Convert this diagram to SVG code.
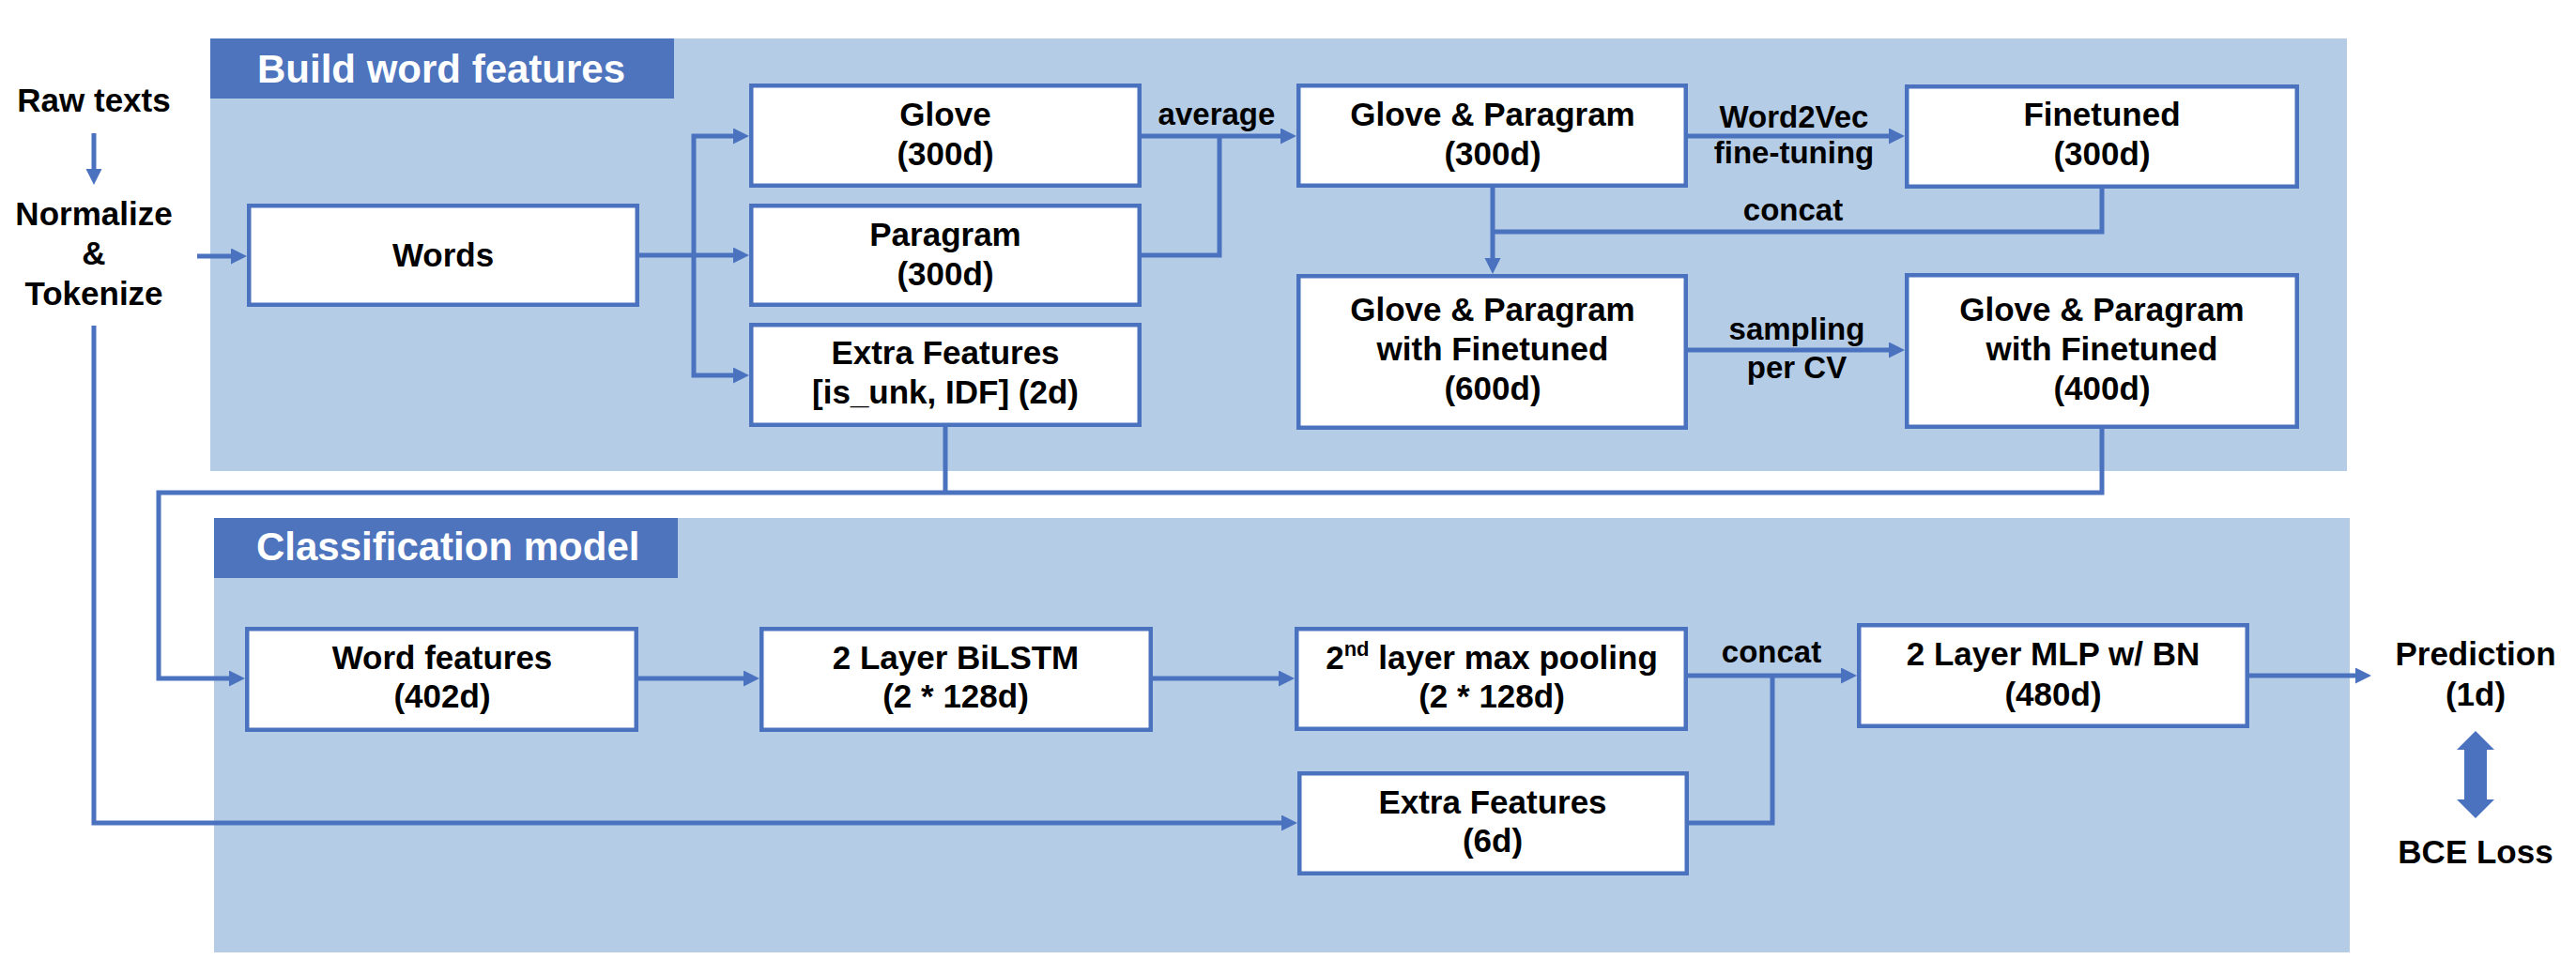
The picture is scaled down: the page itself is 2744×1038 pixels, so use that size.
<svg xmlns="http://www.w3.org/2000/svg" width="2744" height="1038" viewBox="0 0 2744 1038">
<style>
.panel{fill:#B4CCE5;}
.hdr{fill:#4E74BE;}
.hdrt{font-family:"Liberation Sans",Arial,sans-serif;font-weight:bold;font-size:42px;fill:#FFFFFF;}
.box{fill:#FFFFFF;stroke:#4A72BF;stroke-width:4.5;}
.t{font-family:"Liberation Sans",Arial,sans-serif;font-weight:bold;font-size:35px;fill:#000000;text-anchor:middle;}
.lbl{font-family:"Liberation Sans",Arial,sans-serif;font-weight:bold;font-size:33px;fill:#000000;text-anchor:middle;}
.c{fill:none;stroke:#4A72BF;stroke-width:5;stroke-linejoin:miter;}
.ca{fill:none;stroke:#4A72BF;stroke-width:5;stroke-linejoin:miter;marker-end:url(#ah);}
</style>
<defs>
<marker id="ah" markerUnits="userSpaceOnUse" markerWidth="18" markerHeight="18" refX="1" refY="8.5" orient="auto">
<path d="M0,0 L17,8.5 L0,17 z" fill="#4A72BF"/>
</marker>
</defs>
<rect width="2744" height="1038" fill="#FFFFFF"/>

<g id="panel-build">
<rect class="panel" x="224" y="41" width="2276" height="461"/>
<rect class="hdr" x="224" y="41" width="494" height="64"/>
<text class="hdrt" x="274" y="88">Build word features</text>
</g>
<g id="panel-classification">
<rect class="panel" x="228" y="552" width="2275" height="463"/>
<rect class="hdr" x="228" y="552" width="494" height="64"/>
<text class="hdrt" x="273" y="597">Classification model</text>
</g>

<g id="connectors">
<path class="ca" d="M100,142 V181"/>
<path class="ca" d="M210,273 H247"/>
<path class="ca" d="M681,272 H782"/>
<path class="ca" d="M739,272 V145 H782"/>
<path class="ca" d="M739,272 V400 H782"/>
<path class="ca" d="M1216,145 H1365"/>
<path class="c" d="M1216,272 H1299 V145"/>
<path class="ca" d="M1798,145 H2013"/>
<path class="ca" d="M1590,200 V276"/>
<path class="c" d="M2239,201 V247 H1590"/>
<path class="ca" d="M1798,373 H2013"/>
<path class="ca" d="M2239,457 V525 H169 V723 H245"/>
<path class="c" d="M1007,455 V525"/>
<path class="ca" d="M680,723 H793"/>
<path class="ca" d="M1228,723 H1363"/>
<path class="ca" d="M1798,720 H1962"/>
<path class="c" d="M1799,877 H1888 V720"/>
<path class="ca" d="M100,347 V877 H1366"/>
<path class="ca" d="M2396,720 H2510"/>
<polygon points="2637,779 2657,799 2649,799 2649,852 2657,852 2637,872 2617,852 2625,852 2625,799 2617,799" fill="#4A72BF"/>
<text class="lbl" x="1296" y="133">average</text>
<text class="lbl" x="1911" y="136">Word2Vec</text>
<text class="lbl" x="1911" y="174">fine-tuning</text>
<text class="lbl" x="1910" y="235">concat</text>
<text class="lbl" x="1914" y="362">sampling</text>
<text class="lbl" x="1914" y="403">per CV</text>
<text class="lbl" x="1887" y="706">concat</text>
</g>

<g id="raw-texts">
<text class="t" x="100" y="119">Raw texts</text>
</g>
<g id="normalize">
<text class="t" x="100" y="240">Normalize</text>
<text class="t" x="100" y="282">&amp;</text>
<text class="t" x="100" y="325">Tokenize</text>
</g>
<g id="words">
<rect class="box" x="265.25" y="219.25" width="413.5" height="105.5"/>
<text class="t" x="472" y="284">Words</text>
</g>
<g id="glove">
<rect class="box" x="800.25" y="91.25" width="413.5" height="106.5"/>
<text class="t" x="1007" y="134">Glove</text>
<text class="t" x="1007" y="176">(300d)</text>
</g>
<g id="paragram">
<rect class="box" x="800.25" y="219.25" width="413.5" height="105.5"/>
<text class="t" x="1007" y="262">Paragram</text>
<text class="t" x="1007" y="304">(300d)</text>
</g>
<g id="extra-features-2d">
<rect class="box" x="800.25" y="346.25" width="413.5" height="106.5"/>
<text class="t" x="1007" y="388">Extra Features</text>
<text class="t" x="1007" y="430">[is_unk, IDF] (2d)</text>
</g>
<g id="glove-paragram-300d">
<rect class="box" x="1383.25" y="91.25" width="412.5" height="106.5"/>
<text class="t" x="1590" y="134">Glove &amp; Paragram</text>
<text class="t" x="1590" y="176">(300d)</text>
</g>
<g id="finetuned-300d">
<rect class="box" x="2031.25" y="92.25" width="415.5" height="106.5"/>
<text class="t" x="2239" y="134">Finetuned</text>
<text class="t" x="2239" y="176">(300d)</text>
</g>
<g id="gp-finetuned-600d">
<rect class="box" x="1383.25" y="294.25" width="412.5" height="161.5"/>
<text class="t" x="1590" y="342">Glove &amp; Paragram</text>
<text class="t" x="1590" y="384">with Finetuned</text>
<text class="t" x="1590" y="426">(600d)</text>
</g>
<g id="gp-finetuned-400d">
<rect class="box" x="2031.25" y="293.25" width="415.5" height="161.5"/>
<text class="t" x="2239" y="342">Glove &amp; Paragram</text>
<text class="t" x="2239" y="384">with Finetuned</text>
<text class="t" x="2239" y="426">(400d)</text>
</g>
<g id="word-features">
<rect class="box" x="263.25" y="670.25" width="414.5" height="107.5"/>
<text class="t" x="471" y="713">Word features</text>
<text class="t" x="471" y="754">(402d)</text>
</g>
<g id="bilstm">
<rect class="box" x="811.25" y="670.25" width="414.5" height="107.5"/>
<text class="t" x="1018" y="713">2 Layer BiLSTM</text>
<text class="t" x="1018" y="754">(2 * 128d)</text>
</g>
<g id="max-pooling">
<rect class="box" x="1381.25" y="670.25" width="414.5" height="106.5"/>
<text class="t" x="1589" y="713">2<tspan font-size="22" dy="-14">nd</tspan><tspan dy="14"> layer max pooling</tspan></text>
<text class="t" x="1589" y="754">(2 * 128d)</text>
</g>
<g id="extra-features-6d">
<rect class="box" x="1384.25" y="824.25" width="412.5" height="106.5"/>
<text class="t" x="1590" y="867">Extra Features</text>
<text class="t" x="1590" y="908">(6d)</text>
</g>
<g id="mlp">
<rect class="box" x="1980.25" y="666.25" width="413.5" height="107.5"/>
<text class="t" x="2187" y="709">2 Layer MLP w/ BN</text>
<text class="t" x="2187" y="752">(480d)</text>
</g>
<g id="prediction">
<text class="t" x="2637" y="709">Prediction</text>
<text class="t" x="2637" y="752">(1d)</text>
</g>
<g id="bce-loss">
<text class="t" x="2637" y="920">BCE Loss</text>
</g>
</svg>
